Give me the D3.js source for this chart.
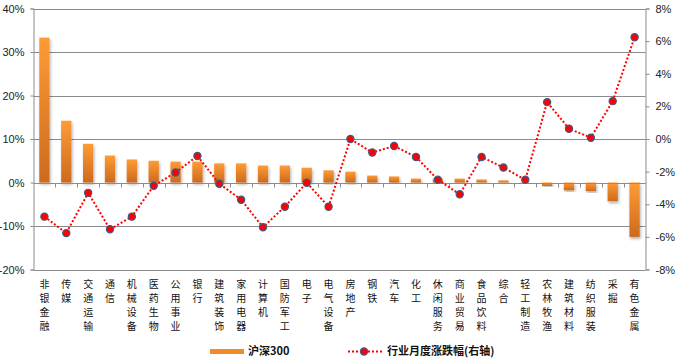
<!DOCTYPE html>
<html><head><meta charset="utf-8">
<script src="https://cdn.jsdelivr.net/npm/d3@7"></script>
<style>body{margin:0;background:#fff;}svg{display:block;}</style>
</head><body>
<svg id="c" width="678" height="360"></svg>
<script>
const categories = ["非银金融","传媒","交通运输","通信","机械设备","医药生物","公用事业","银行","建筑装饰","家用电器","计算机","国防军工","电子","电气设备","房地产","钢铁","汽车","化工","休闲服务","商业贸易","食品饮料","综合","轻工制造","农林牧渔","建筑材料","纺织服装","采掘","有色金属"];
const hs300 = [33.3,14.2,8.9,6.2,5.3,5.0,4.8,4.8,4.4,4.4,3.9,3.9,3.4,2.8,2.5,1.6,1.4,0.9,0.9,0.9,0.7,0.5,0.05,-0.8,-1.8,-2.0,-4.3,-12.5];
const industry = [-4.76,-5.77,-3.3,-5.53,-4.76,-2.87,-2.05,-1.04,-2.74,-3.72,-5.41,-4.15,-2.68,-4.15,0.0,-0.83,-0.43,-1.1,-2.5,-3.39,-1.1,-1.75,-2.5,2.26,0.63,0.08,2.32,6.24];
const leftTicks = [40,30,20,10,0,-10,-20];
const rightTicks = [8,6,4,2,0,-2,-4,-6,-8];
const legendLabels = ["沪深300","行业月度涨跌幅(右轴)"];

const svg = d3.select("#c");
const L = 33.5, R = 645.5, T = 8.5, B = 269.5;
const x = d3.scaleBand().domain(categories).range([L, R]).paddingInner(0.53).paddingOuter(0.265);
const xb = d3.scaleBand().domain(categories).range([L, R]);
const yL = d3.scaleLinear().domain([-20, 40]).range([B, T]);
const yR = d3.scaleLinear().domain([-8, 8]).range([B, T]);

const defs = svg.append("defs");
const gPos = defs.append("linearGradient").attr("id","gp").attr("x1",0).attr("y1",0).attr("x2",0).attr("y2",1);
gPos.append("stop").attr("offset","0%").attr("stop-color","#FF9B35");
gPos.append("stop").attr("offset","100%").attr("stop-color","#CC6A1E");
const sh = defs.append("filter").attr("id","sh").attr("x","-50%").attr("y","-20%").attr("width","200%").attr("height","140%");
sh.append("feDropShadow").attr("dx",1).attr("dy",2).attr("stdDeviation",1.5).attr("flood-color","#000").attr("flood-opacity",0.3);

const font = "'Liberation Sans', Arial, sans-serif";
const gridColor = "#8c8c8c";

// gridlines
svg.append("g").selectAll("line").data(leftTicks).join("line")
  .attr("x1", L).attr("x2", R).attr("y1", d => Math.round(yL(d))+0.5).attr("y2", d => Math.round(yL(d))+0.5)
  .attr("stroke", gridColor).attr("stroke-width", 1);

// left axis
const axL = svg.append("g").attr("transform", `translate(${L},0)`)
  .call(d3.axisLeft(yL).tickValues(leftTicks).tickFormat(d => d + "%").tickSize(3).tickPadding(6));
axL.select(".domain").attr("stroke", gridColor);
axL.selectAll(".tick line").attr("stroke", gridColor);
axL.selectAll("text").attr("font-family", font).attr("font-size", 11).attr("fill", "#222");

// right axis
const axR = svg.append("g").attr("transform", `translate(${R},0)`)
  .call(d3.axisRight(yR).tickValues(rightTicks).tickFormat(d => d + "%").tickSize(4).tickPadding(6));
axR.select(".domain").attr("stroke", gridColor);
axR.selectAll(".tick line").attr("stroke", gridColor);
axR.selectAll("text").attr("font-family", font).attr("font-size", 11).attr("fill", "#222");

// bars
svg.append("g").selectAll("rect").data(categories).join("rect")
  .attr("x", d => x(d))
  .attr("width", x.bandwidth())
  .attr("y", (d,i) => yL(Math.max(0, hs300[i])))
  .attr("height", (d,i) => Math.abs(yL(hs300[i]) - yL(0)))
  .attr("fill", "url(#gp)")
  .attr("filter", "url(#sh)");

// category axis at zero
const y0 = Math.round(yL(0)) + 0.5;
svg.append("line").attr("x1", L).attr("x2", R).attr("y1", y0).attr("y2", y0).attr("stroke", gridColor);
svg.append("g").selectAll("line").data(categories.slice(1)).join("line")
  .attr("x1", d => Math.round(xb(d))+0.5).attr("x2", d => Math.round(xb(d))+0.5)
  .attr("y1", y0).attr("y2", y0 + 4).attr("stroke", gridColor);

// category labels (vertical stacked)
const lab = svg.append("g");
categories.forEach((c) => {
  const cx = xb(c) + xb.bandwidth()/2;
  [...c].forEach((ch, j) => {
    lab.append("text").attr("x", cx).attr("y", 288 + j*14)
      .attr("text-anchor","middle").attr("font-family","'Noto Sans CJK SC', sans-serif")
      .attr("font-size", 10).attr("fill", "#111").text(ch);
  });
});

// line
const line = d3.line().x((d,i) => xb(categories[i]) + xb.bandwidth()/2).y(d => yR(d));
svg.append("path").datum(industry).attr("d", line).attr("fill","none")
  .attr("stroke","#FF0000").attr("stroke-width",2).attr("stroke-dasharray","2,2");
svg.append("g").selectAll("circle").data(industry).join("circle")
  .attr("cx", (d,i) => xb(categories[i]) + xb.bandwidth()/2).attr("cy", d => yR(d))
  .attr("r", 3.6).attr("fill","#FF0000").attr("stroke","#3D5A8A").attr("stroke-width",1.2);

// legend
const lg = svg.append("g");
lg.append("rect").attr("x",210).attr("y",349).attr("width",34).attr("height",5).attr("fill","#F08A2A");
lg.append("text").attr("x",248).attr("y",355).attr("font-family","'Noto Sans CJK SC', sans-serif")
  .attr("font-size",11).attr("font-weight","bold").attr("fill","#111").text(legendLabels[0]);
lg.append("line").attr("x1",348).attr("x2",382).attr("y1",351.5).attr("y2",351.5)
  .attr("stroke","#FF0000").attr("stroke-width",2).attr("stroke-dasharray","2,2");
lg.append("circle").attr("cx",364).attr("cy",351.5).attr("r",3.6).attr("fill","#FF0000").attr("stroke","#3D5A8A").attr("stroke-width",1.2);
lg.append("text").attr("x",387).attr("y",355).attr("font-family","'Noto Sans CJK SC', sans-serif")
  .attr("font-size",11).attr("font-weight","bold").attr("fill","#111").text(legendLabels[1]);
</script>
</body></html>
